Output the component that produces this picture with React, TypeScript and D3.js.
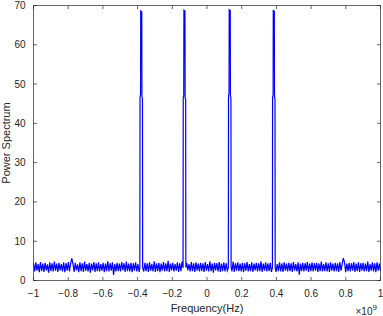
import { useEffect, useRef } from 'react';
import * as d3 from 'd3';

// frequency in units of 1e9 Hz
const xTicks = [-1, -0.8, -0.6, -0.4, -0.2, 0, 0.2, 0.4, 0.6, 0.8, 1];
const yTicks = [0, 10, 20, 30, 40, 50, 60, 70];

const peakFreqs = [-0.379, -0.13, 0.131, 0.385];
const peakHeights = [68.6, 68.8, 68.9, 68.7];
const peakShoulder = [46.8, 46.5, 47.0, 46.7];

// noise floor samples, evenly spaced over [-1, 1]
const noise = [
  4.4, 2.3, 4.6, 2.5, 4.2, 2.1, 4.7, 2.4, 4.3, 2.2, 4.5, 2.6, 4.1, 2.0, 4.6, 2.4, 4.4, 2.3, 4.8, 2.5,
  4.3, 2.2, 4.5, 2.6, 4.2, 2.3, 4.6, 2.1, 4.4, 2.5, 4.7, 2.3, 4.4, 5.6, 4.3, 2.2, 4.5, 2.6, 4.1, 2.1,
  4.6, 2.4, 4.4, 2.2, 4.8, 2.5, 4.2, 2.3, 4.5, 2.0, 4.3, 2.6, 4.7, 2.2, 4.4, 2.4, 4.6, 2.3, 4.2, 2.5,
  4.5, 2.1, 4.3, 2.4, 4.9, 2.3, 4.4, 2.5, 4.6, 1.4, 4.2, 2.3, 4.5, 2.4, 4.3, 2.3, 4.7, 2.6, 4.4, 2.2,
  4.8, 2.4, 4.3, 2.3, 4.5, 2.1, 4.4, 2.5, 4.6, 2.3, 4.2, 2.2, 4.7, 2.6, 4.3, 2.3, 4.5, 2.4, 4.4, 2.2,
  4.6, 2.5, 4.2, 2.3, 4.9, 2.2, 4.4, 2.4, 4.5, 2.1, 4.3, 2.5, 4.7, 2.3, 4.4, 2.4, 5.0, 2.2, 4.3, 2.6,
  4.5, 2.3, 4.2, 2.5, 4.6, 2.2, 4.4, 2.4, 4.8, 2.3, 4.3, 2.1, 4.5, 2.6, 4.2, 2.3, 4.7, 2.4, 4.4, 2.2,
  4.6, 2.5, 4.3, 2.3, 4.5, 2.4, 4.4, 2.2, 4.7, 2.5, 4.2, 2.3, 4.9, 2.4, 4.3, 2.0, 4.5, 2.6, 4.4, 2.3,
  4.7, 2.2, 4.3, 2.4, 4.6, 2.3, 4.4, 2.5, 4.5, 2.2, 4.2, 2.3, 4.8, 2.2, 4.4, 2.5, 4.6, 2.4, 4.3, 2.3,
  4.5, 2.1, 4.4, 2.5, 4.7, 2.3, 4.2, 2.4, 4.6, 2.2, 4.3, 2.6, 4.5, 2.3, 4.4, 2.4, 4.9, 2.2, 4.3, 2.5,
  4.6, 2.3, 4.4, 2.4, 4.5, 2.2, 4.3, 2.5, 4.8, 2.2, 4.2, 2.4, 4.6, 2.3, 4.4, 2.2, 4.6, 2.5, 4.3, 2.3,
  4.5, 2.4, 4.4, 2.2, 4.7, 2.5, 4.2, 2.3, 4.6, 1.5, 4.3, 2.4, 4.5, 2.3, 4.4, 2.5, 4.7, 2.2, 4.3, 2.4,
  4.6, 2.3, 4.4, 2.5, 4.5, 2.2, 4.3, 2.4, 4.8, 2.3, 4.2, 2.4, 4.6, 2.3, 4.4, 2.2, 4.6, 2.5, 4.3, 2.3,
  4.5, 2.4, 4.4, 2.2, 4.7, 2.5, 4.2, 5.7, 4.6, 2.1, 4.3, 2.4, 4.5, 2.3, 4.4, 2.5, 4.7, 2.2, 4.3, 2.4,
  4.6, 2.2, 4.4, 2.5, 4.5, 2.3, 4.3, 2.4, 4.8, 2.2, 4.2, 2.5, 4.6, 2.3, 4.4, 2.1, 4.6, 2.5, 4.3, 2.4,
];

export default function App() {
  const svgRef = useRef<SVGSVGElement>(null);

  useEffect(() => {
    const W = 383;
    const H = 316;
    const margin = { top: 5, right: 3, bottom: 36, left: 33 };
    const width = W - margin.left - margin.right;
    const height = H - margin.top - margin.bottom;
    const axisColor = '#262626';
    const font = 'Liberation Sans, Arial, Helvetica, sans-serif';

    d3.select(svgRef.current).selectAll('*').remove();
    const svg = d3.select(svgRef.current).attr('width', W).attr('height', H);
    const g = svg.append('g').attr('transform', `translate(${margin.left + 0.5},${margin.top + 0.5})`);

    const x = d3.scaleLinear().domain([-1, 1]).range([0, width]);
    const y = d3.scaleLinear().domain([0, 70]).range([height, 0]);

    // build the spectrum: noise floor with the four narrow tones
    const step = 2 / (noise.length - 1);
    const pts: [number, number][] = noise
      .map((v, i) => [-1 + i * step, v] as [number, number])
      .filter(([f]) => peakFreqs.every(p => Math.abs(f - p) > 0.009));
    peakFreqs.forEach((p, i) => {
      pts.push([p - 0.008, 3.2]);
      pts.push([p - 0.007, peakShoulder[i]]);
      pts.push([p - 0.004, peakShoulder[i] + 0.5]);
      pts.push([p - 0.003, peakHeights[i]]);
      pts.push([p + 0.003, peakHeights[i] - 0.2]);
      pts.push([p + 0.004, peakShoulder[i]]);
      pts.push([p + 0.007, peakShoulder[i] - 0.5]);
      pts.push([p + 0.008, 3.3]);
    });
    pts.sort((a, b) => a[0] - b[0]);

    const line = d3.line<[number, number]>().x(d => x(d[0])).y(d => y(d[1]));
    g.append('path').datum(pts)
      .attr('fill', 'none').attr('stroke', '#0000ff').attr('stroke-width', 1.2)
      .attr('stroke-linejoin', 'miter').attr('d', line);

    // box
    g.append('rect').attr('x', 0).attr('y', 0).attr('width', width).attr('height', height)
      .attr('fill', 'none').attr('stroke', axisColor).attr('stroke-opacity', 0.7);

    const tl = 3.5;
    // x ticks (bottom and top, inward)
    xTicks.forEach(t => {
      const px = x(t);
      g.append('line').attr('x1', px).attr('x2', px).attr('y1', height).attr('y2', height - tl)
        .attr('stroke', axisColor).attr('stroke-opacity', 0.7);
      g.append('line').attr('x1', px).attr('x2', px).attr('y1', 0).attr('y2', tl)
        .attr('stroke', axisColor).attr('stroke-opacity', 0.7);
      g.append('text').attr('x', px).attr('y', height + 16).attr('text-anchor', 'middle')
        .attr('font-family', font).attr('font-size', 10).attr('fill', axisColor)
        .text(d3.format('')(t));
    });

    // y ticks (left and right, inward)
    yTicks.forEach(t => {
      const py = y(t);
      g.append('line').attr('x1', 0).attr('x2', tl).attr('y1', py).attr('y2', py)
        .attr('stroke', axisColor).attr('stroke-opacity', 0.7);
      g.append('line').attr('x1', width).attr('x2', width - tl).attr('y1', py).attr('y2', py)
        .attr('stroke', axisColor).attr('stroke-opacity', 0.7);
      g.append('text').attr('x', -8).attr('y', py + 3.5).attr('text-anchor', 'end')
        .attr('font-family', font).attr('font-size', 10).attr('fill', axisColor)
        .text(t);
    });

    // axis labels
    g.append('text').attr('x', width / 2).attr('y', height + 31).attr('text-anchor', 'middle')
      .attr('font-family', font).attr('font-size', 11).attr('fill', axisColor)
      .text('Frequency(Hz)');
    g.append('text').attr('transform', `translate(${-24},${height / 2}) rotate(-90)`)
      .attr('text-anchor', 'middle')
      .attr('font-family', font).attr('font-size', 11).attr('fill', axisColor)
      .text('Power Spectrum');

    // exponent
    const ex = g.append('text').attr('x', width - 25).attr('y', height + 34)
      .attr('font-family', font).attr('font-size', 10).attr('fill', axisColor);
    ex.append('tspan').text('\u00d710');
    ex.append('tspan').attr('dy', -5).attr('font-size', 8).text('9');
  }, []);

  return (
    <svg ref={svgRef} style={{ position: 'absolute', left: 0, top: 0, background: '#fff' }} />
  );
}
